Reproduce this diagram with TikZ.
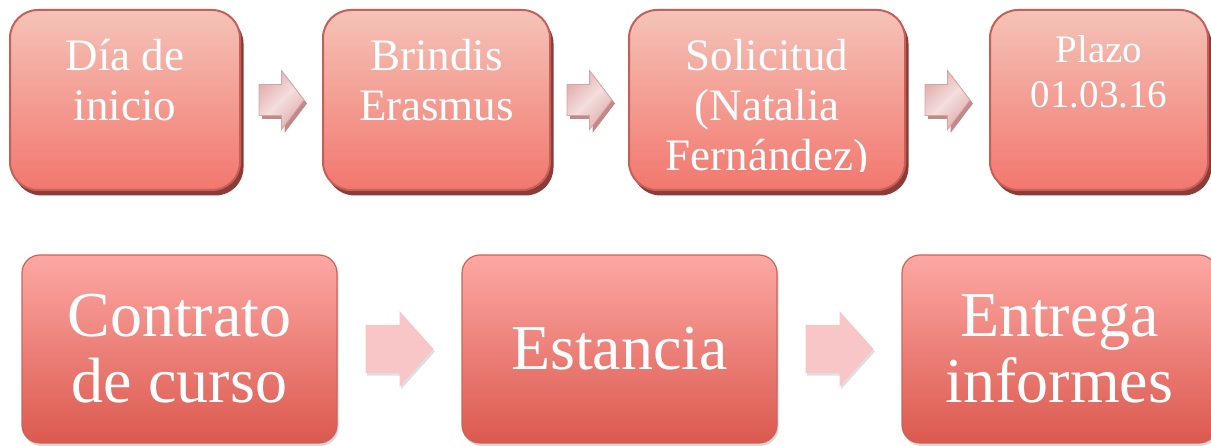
\documentclass[tikz,border=0pt]{standalone}
\usepackage{fontspec}
\setmainfont{Liberation Serif}
\usetikzlibrary{calc,shadows}

\definecolor{boxtop}{HTML}{F5C3B8}
\definecolor{boxbottom}{HTML}{F2776E}
\definecolor{boxline}{HTML}{C65F58}
\definecolor{boxshadow}{HTML}{8C3B37}
\definecolor{stagetop}{HTML}{FDA8A4}
\definecolor{stagebottom}{HTML}{DB594E}
\definecolor{stageline}{HTML}{D0625C}
\definecolor{arrowedge}{HTML}{E2AEAE}
\definecolor{arrowlight}{HTML}{F3DEDE}
\definecolor{arrowline}{HTML}{DCA2A2}
\definecolor{arrowshadow}{HTML}{C08A8A}
\definecolor{stagearrow}{HTML}{F8C6C6}

\tikzset{
  stepbox/.style={draw=boxline, line width=2pt, rounded corners=28pt,
    top color=boxtop, bottom color=boxbottom, minimum height=180pt, inner sep=0,
    drop shadow={fill=boxshadow, opacity=1, shadow xshift=3.5pt, shadow yshift=-5.5pt}},
  steptext/.style={text=white, align=center, anchor=north, inner sep=0,
    font=\fontsize{45}{50}\selectfont},
  stagebox/.style={draw=stageline, line width=1.2pt, rounded corners=18pt,
    top color=stagetop, bottom color=stagebottom, minimum width=315pt,
    minimum height=188pt, text=white, align=center, font=\fontsize{64}{66}\selectfont,
    drop shadow={opacity=0.3, shadow xshift=1.5pt, shadow yshift=-3pt}},
  steparrow/.pic={
    \path[draw=arrowline, line width=0.8pt, left color=arrowedge, right color=arrowedge,
      middle color=arrowlight, shading angle=45,
      drop shadow={fill=arrowshadow, opacity=1, shadow xshift=3pt, shadow yshift=-3.5pt}]
      (-22.5,-15.5) -- (0,-15.5) -- (0,-29.5) -- (22.5,0) -- (0,29.5) -- (0,15.5) -- (-22.5,15.5) -- cycle;
  },
  stagearrow/.pic={
    \path[fill=stagearrow, drop shadow={opacity=0.25, shadow xshift=1.5pt, shadow yshift=-2.5pt}]
      (-34,-24) -- (0,-24) -- (0,-38) -- (34,0) -- (0,38) -- (0,24) -- (-34,24) -- cycle;
  }
}

\begin{document}
\begin{tikzpicture}[x=1pt,y=1pt]
  \useasboundingbox (0,0) rectangle (1211,445);

  % first row
  \node[stepbox, minimum width=230pt] (b1) at (125,345) {};
  \node[stepbox, minimum width=227pt] (b2) at (436.5,345) {};
  \node[stepbox, minimum width=276pt] (b3) at (767,345) {};
  \node[stepbox, minimum width=218pt] (b4) at (1099,345) {};

  \node[steptext] (t1) at ([yshift=-30pt]b1.north) {Día de\\inicio};
  \node[steptext] (t2) at ([yshift=-30pt]b2.north) {Brindis\\Erasmus};
  \begin{scope}
    \clip ([yshift=19pt]b3.south west) rectangle (b3.north east);
    \node[steptext] (t3) at ([yshift=-30pt]b3.north) {Solicitud\\(Natalia\\Fernández)};
  \end{scope}
  \node[steptext, font=\fontsize{39}{45}\selectfont] (t4) at ([yshift=-26pt]b4.north) {Plazo\\01.03.16};

  \pic (a1) at ($(b1.east)!0.5!(b2.west)$) {steparrow};
  \pic (a2) at ($(b2.east)!0.5!(b3.west)$) {steparrow};
  \pic (a3) at ($(b3.east)!0.5!(b4.west)$) {steparrow};

  % second row
  \node[stagebox] (b5) at (179.5,96) {Contrato\\de curso};
  \node[stagebox] (b6) at (619.5,96) {Estancia};
  \node[stagebox] (b7) at (1059.5,96) {Entrega\\informes};

  \pic (a4) at ($(b5.east)!0.5!(b6.west)$) {stagearrow};
  \pic (a5) at ($(b6.east)!0.5!(b7.west)$) {stagearrow};
\end{tikzpicture}
\end{document}
